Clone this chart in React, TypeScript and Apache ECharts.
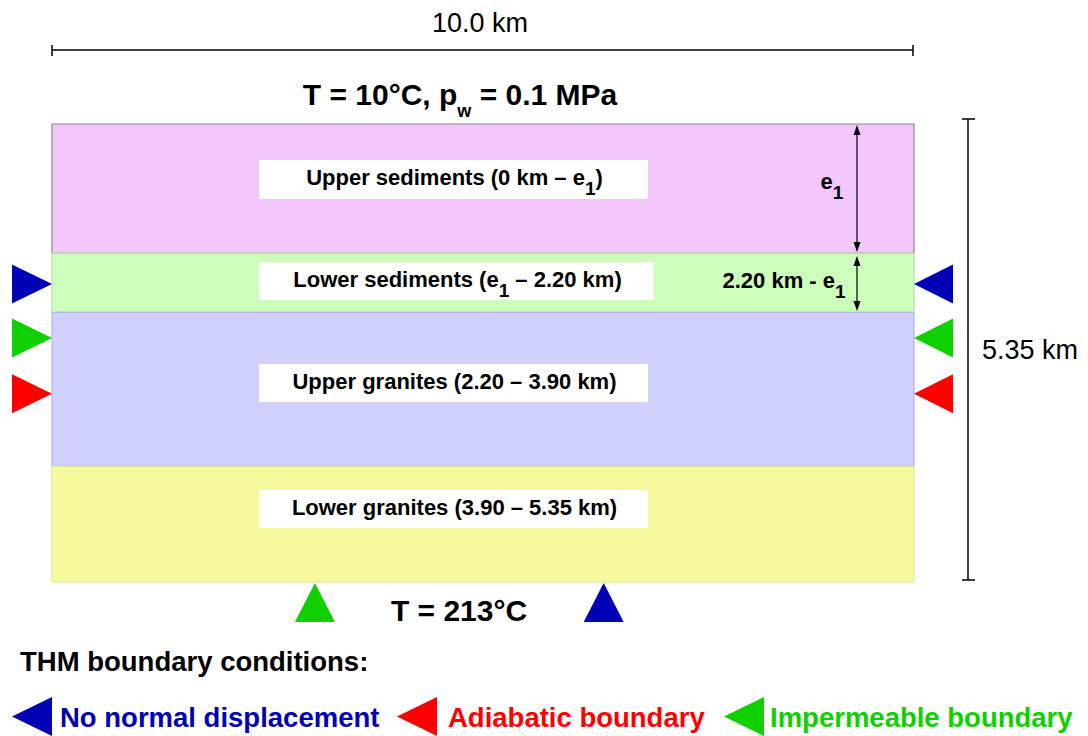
import React, { useEffect, useRef } from "react";
import * as echarts from "echarts";

// ---- data (km) ----
const layerNames = ["Upper sediments", "Lower sediments", "Upper granites", "Lower granites"];
const layerTop = [0, 1.51, 2.2, 4.0];
const layerBottom = [1.51, 2.2, 4.0, 5.35];
const layerFill = ["#f3c6fc", "#ccfdbb", "#d0d1fc", "#f8fb9d"];
const layerStroke = ["#8a8a8a", "#b8e0a8", "#b4b4e6", "#e2e4a0"];
const layerLabels = [
  "{m|Upper sediments (0 km – e}{s|1}{m|)}",
  "{m|Lower sediments (e}{s|1}{m| – 2.20 km)}",
  "{m|Upper granites (2.20 – 3.90 km)}",
  "{m|Lower granites (3.90 – 5.35 km)}",
];
const modelWidth = 10.0;
const modelDepth = 5.35;

const BLUE = "#0000b4";
const GREEN = "#11d000";
const RED = "#ff0000";

const sideMarkerDepths = [1.87, 2.5, 3.15];
const sideMarkerColors = [BLUE, GREEN, RED];
const bottomMarkerX = [3.05, 6.4];
const bottomMarkerColors = [GREEN, BLUE];

const legendLabels = ["No normal displacement", "Adiabatic boundary", "Impermeable boundary"];
const legendColors = [BLUE, RED, GREEN];

const FONT = '"Liberation Sans", Arial, sans-serif';

export default function App() {
  const ref = useRef<HTMLDivElement>(null);
  useEffect(() => {
    if (!ref.current) return;
    const chart = echarts.init(ref.current, undefined, { renderer: "svg" });

    const richLabel = {
      m: { fontSize: 22, fontWeight: "bold", fontFamily: FONT, color: "#000", lineHeight: 26 },
      s: { fontSize: 19, fontWeight: "bold", fontFamily: FONT, color: "#000", lineHeight: 19, padding: [22, 0, 0, 0] },
    };

    const labelBoxes = [
      { x: 259, y: 160, w: 389, h: 39 },
      { x: 259, y: 262, w: 395, h: 38 },
      { x: 259, y: 364, w: 389, h: 38 },
      { x: 259, y: 490, w: 389, h: 38 },
    ];

    const graphics: any[] = [];
    const Z = 100;
    // top dimension
    graphics.push({ type: "line", z: Z, shape: { x1: 52, y1: 50, x2: 913, y2: 50 }, style: { stroke: "#000", lineWidth: 1.5 } });
    graphics.push({ type: "line", z: Z, shape: { x1: 52, y1: 45, x2: 52, y2: 56 }, style: { stroke: "#000", lineWidth: 1.5 } });
    graphics.push({ type: "line", z: Z, shape: { x1: 913, y1: 45, x2: 913, y2: 56 }, style: { stroke: "#000", lineWidth: 1.5 } });
    graphics.push({ type: "text", z: Z, x: 480, y: 23, style: { text: modelWidth.toFixed(1) + " km", font: `27px ${FONT}`, fill: "#000", align: "center", verticalAlign: "middle" } });
    // right dimension
    graphics.push({ type: "line", z: Z, shape: { x1: 968, y1: 119, x2: 968, y2: 580 }, style: { stroke: "#000", lineWidth: 1.5 } });
    graphics.push({ type: "line", z: Z, shape: { x1: 962, y1: 119, x2: 975, y2: 119 }, style: { stroke: "#000", lineWidth: 1.5 } });
    graphics.push({ type: "line", z: Z, shape: { x1: 962, y1: 580, x2: 975, y2: 580 }, style: { stroke: "#000", lineWidth: 1.5 } });
    graphics.push({ type: "text", z: Z, x: 982, y: 350, style: { text: modelDepth.toFixed(2) + " km", font: `27px ${FONT}`, fill: "#000", align: "left", verticalAlign: "middle" } });
    // title
    graphics.push({
      type: "text", z: Z, x: 460, y: 94,
      style: {
        text: "{m|T = 10°C, p}{s|w}{m| = 0.1 MPa}",
        align: "center", verticalAlign: "middle",
        rich: {
          m: { fontSize: 30, fontWeight: "bold", fontFamily: FONT, color: "#000", lineHeight: 34 },
          s: { fontSize: 18, fontWeight: "bold", fontFamily: FONT, color: "#000", lineHeight: 18, padding: [34, 0, 0, 0] },
        },
      },
    });
    // label boxes
    labelBoxes.forEach((b, i) => {
      graphics.push({ type: "rect", z: Z, shape: { x: b.x, y: b.y, width: b.w, height: b.h }, style: { fill: "#fff" } });
      graphics.push({
        type: "text", z: Z + 1, x: b.x + b.w / 2 + 1, y: b.y + b.h / 2 - 2,
        style: { text: layerLabels[i], align: "center", verticalAlign: "middle", rich: richLabel },
      });
    });
    // e1 arrows
    const arrow = (x: number, y1: number, y2: number) => {
      graphics.push({ type: "line", z: Z, shape: { x1: x, y1: y1 + 6, x2: x, y2: y2 - 6 }, style: { stroke: "#000", lineWidth: 1.2 } });
      graphics.push({ type: "polygon", z: Z, shape: { points: [[x, y1], [x - 3.5, y1 + 10], [x + 3.5, y1 + 10]] }, style: { fill: "#000" } });
      graphics.push({ type: "polygon", z: Z, shape: { points: [[x, y2], [x - 3.5, y2 - 10], [x + 3.5, y2 - 10]] }, style: { fill: "#000" } });
    };
    arrow(857, 125, 252);
    arrow(857, 256, 311);
    graphics.push({ type: "text", z: Z, x: 832, y: 181, style: { text: "{m|e}{s|1}", align: "center", verticalAlign: "middle", rich: richLabel } });
    graphics.push({ type: "text", z: Z, x: 784, y: 280, style: { text: "{m|2.20 km - e}{s|1}", align: "center", verticalAlign: "middle", rich: richLabel } });
    // bottom
    graphics.push({ type: "text", z: Z, x: 459, y: 610, style: { text: "T = 213°C", font: `bold 30px ${FONT}`, fill: "#000", align: "center", verticalAlign: "middle" } });
    graphics.push({ type: "text", z: Z, x: 20, y: 661, style: { text: "THM boundary conditions:", font: `bold 27.5px ${FONT}`, fill: "#000", align: "left", verticalAlign: "middle" } });
    // legend
    const legendTriX = [12, 397, 724];
    const legendTextX = [60, 448, 770];
    legendLabels.forEach((t, i) => {
      const x0 = legendTriX[i];
      graphics.push({ type: "polygon", z: Z, shape: { points: [[x0, 716.5], [x0 + 40, 697], [x0 + 40, 736]] }, style: { fill: legendColors[i] } });
      graphics.push({ type: "text", z: Z, x: legendTextX[i], y: 717, style: { text: t, font: `bold 27.5px ${FONT}`, fill: legendColors[i], align: "left", verticalAlign: "middle" } });
    });

    const option: any = {
      animation: false,
      backgroundColor: "#fff",
      grid: { left: 52, top: 124, width: 862, height: 458 },
      xAxis: { type: "value", min: 0, max: modelWidth, show: false },
      yAxis: { type: "value", min: 0, max: modelDepth, inverse: true, show: false },
      series: [
        {
          type: "custom",
          name: "layers",
          clip: false,
          data: layerNames.map((n, i) => [layerTop[i], layerBottom[i], i]),
          renderItem: (params: any, api: any) => {
            const i = api.value(2);
            const p1 = api.coord([0, api.value(0)]);
            const p2 = api.coord([modelWidth, api.value(1)]);
            return {
              type: "rect",
              shape: { x: p1[0], y: p1[1], width: p2[0] - p1[0], height: p2[1] - p1[1] },
              style: { fill: layerFill[i], stroke: layerStroke[i], lineWidth: 1.2 },
            };
          },
        },
        {
          type: "custom",
          name: "left markers",
          clip: false,
          z: 5,
          data: sideMarkerDepths.map((d, i) => [0, d, i]),
          renderItem: (params: any, api: any) => {
            const p = api.coord([api.value(0), api.value(1)]);
            const i = api.value(2);
            return { type: "polygon", shape: { points: [[p[0], p[1]], [p[0] - 40, p[1] - 19.5], [p[0] - 40, p[1] + 19.5]] }, style: { fill: sideMarkerColors[i] } };
          },
        },
        {
          type: "custom",
          name: "right markers",
          clip: false,
          z: 5,
          data: sideMarkerDepths.map((d, i) => [modelWidth, d, i]),
          renderItem: (params: any, api: any) => {
            const p = api.coord([api.value(0), api.value(1)]);
            const i = api.value(2);
            return { type: "polygon", shape: { points: [[p[0], p[1]], [p[0] + 39, p[1] - 19.5], [p[0] + 39, p[1] + 19.5]] }, style: { fill: sideMarkerColors[i] } };
          },
        },
        {
          type: "custom",
          name: "bottom markers",
          clip: false,
          z: 5,
          data: bottomMarkerX.map((x, i) => [x, modelDepth, i]),
          renderItem: (params: any, api: any) => {
            const p = api.coord([api.value(0), api.value(1)]);
            const i = api.value(2);
            return { type: "polygon", shape: { points: [[p[0], p[1] + 1], [p[0] - 20, p[1] + 40], [p[0] + 20, p[1] + 40]] }, style: { fill: bottomMarkerColors[i] } };
          },
        },
      ],
      graphic: { elements: graphics },
    };
    chart.setOption(option);
    return () => chart.dispose();
  }, []);
  return <div ref={ref} style={{ position: "fixed", left: 0, top: 0, width: 1088, height: 736 }} />;
}
